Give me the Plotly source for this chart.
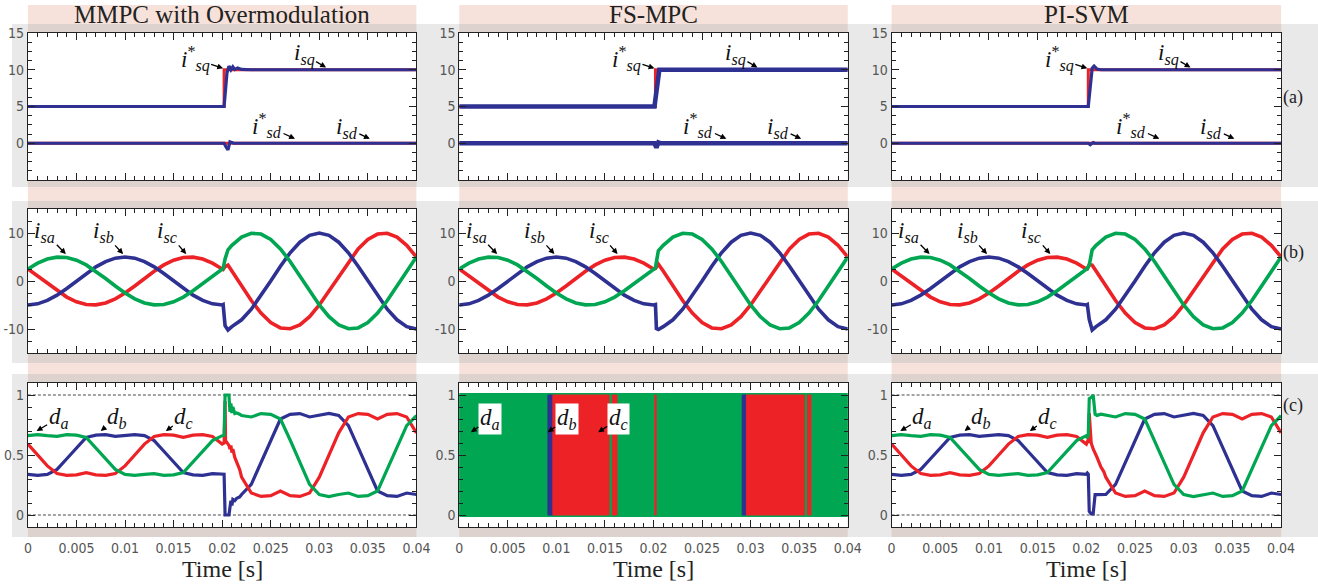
import plotly.graph_objects as go

W, H = 1318, 586
# the photographed page maps the figure into a slightly smaller box (offset at the top);
# reference pixel positions are mapped through it
EFF_W, EFF_H, OFF_Y = 1305.0, 578.0, 8.0
GREEN, BLUE, RED = '#00a651', '#2e3192', '#ec2227'
GREY, PEACH, OVER = '#e8e9e8', '#f6e2da', '#ded2ce'

# ---------------- (a) dq currents ----------------
T_DQ_REF = [0.0, 0.0202, 0.0202, 0.04]
ISQ_REF = [5.0, 5.0, 10.0, 10.0]
ISD_REF = [0.0, 0.0, 0.0, 0.0]

T_ISQ_MMPC = [0.0, 0.0202, 0.0205, 0.0207, 0.0209, 0.0211, 0.0213, 0.0216, 0.0220, 0.0230, 0.04]
ISQ_MMPC = [5.0, 5.0, 9.6, 10.5, 10.0, 10.4, 10.05, 10.25, 10.05, 10.0, 10.0]
T_ISD_MMPC = [0.0, 0.0202, 0.0204, 0.0206, 0.0208, 0.0212, 0.04]
ISD_MMPC = [0.0, 0.0, -0.5, -0.9, 0.2, 0.0, 0.0]

T_ISQ_FS = [0.0, 0.0201, 0.0206, 0.04]
ISQ_FS = [5.0, 5.0, 10.0, 10.0]
T_ISD_FS = [0.0, 0.0201, 0.0203, 0.0205, 0.0207, 0.04]
ISD_FS = [0.0, 0.0, -0.6, 0.1, 0.0, 0.0]

T_ISQ_PI = [0.0, 0.0202, 0.0206, 0.0208, 0.0211, 0.0215, 0.04]
ISQ_PI = [5.0, 5.0, 10.2, 10.5, 10.1, 10.0, 10.0]
T_ISD_PI = [0.0, 0.0202, 0.0204, 0.0207, 0.0209, 0.04]
ISD_PI = [0.0, 0.0, -0.2, 0.1, 0.0, 0.0]

# ---------------- (b) phase currents ----------------
T_I_PRE = [0.000, 0.001, 0.002, 0.003, 0.004, 0.005, 0.006, 0.007, 0.008, 0.009, 0.010,
           0.011, 0.012, 0.013, 0.014, 0.015, 0.016, 0.017, 0.018, 0.019, 0.020]
ISA_PRE = [2.5, 3.72, 4.57, 4.97, 4.89, 4.33, 3.35, 2.03, 0.52, -1.04, -2.5,
           -3.72, -4.57, -4.97, -4.89, -4.33, -3.35, -2.03, -0.52, 1.04, 2.5]
ISB_PRE = [-5.0, -4.76, -4.05, -2.94, -1.55, 0.0, 1.55, 2.94, 4.05, 4.76, 5.0,
           4.76, 4.05, 2.94, 1.55, 0.0, -1.55, -2.94, -4.05, -4.76, -5.0]
ISC_PRE = [2.5, 1.04, -0.52, -2.03, -3.35, -4.33, -4.89, -4.97, -4.57, -3.72, -2.5,
           -1.04, 0.52, 2.03, 3.35, 4.33, 4.89, 4.97, 4.57, 3.72, 2.5]
T_I_POST = [0.021, 0.022, 0.023, 0.024, 0.025, 0.026, 0.027, 0.028, 0.029, 0.030,
            0.031, 0.032, 0.033, 0.034, 0.035, 0.036, 0.037, 0.038, 0.039, 0.040]
ISA_POST = [7.43, 9.14, 9.95, 9.78, 8.66, 6.69, 4.07, 1.05, -2.08, -5.0,
            -7.43, -9.14, -9.95, -9.78, -8.66, -6.69, -4.07, -1.05, 2.08, 5.0]
ISB_POST = [-9.51, -8.09, -5.88, -3.09, 0.0, 3.09, 5.88, 8.09, 9.51, 10.0,
            9.51, 8.09, 5.88, 3.09, 0.0, -3.09, -5.88, -8.09, -9.51, -10.0]
ISC_POST = [2.08, -1.05, -4.07, -6.69, -8.66, -9.78, -9.95, -9.14, -7.43, -5.0,
            -2.08, 1.05, 4.07, 6.69, 8.66, 9.78, 9.95, 9.14, 7.43, 5.0]

# step transients of the phase currents, per method
T_I_TR_MMPC = [0.0201, 0.0203, 0.0206]
ISA_TR_MMPC = [2.6, 4.6, 6.5]
ISB_TR_MMPC = [-4.9, -9.3, -10.2]
ISC_TR_MMPC = [2.4, 3.0, 3.3]
T_I_TR_FS = [0.0202, 0.0203, 0.0205]
ISA_TR_FS = [2.7, 4.0, 6.3]
ISB_TR_FS = [-4.9, -9.9, -10.1]
ISC_TR_FS = [2.6, 2.9, 3.5]
T_I_TR_PI = [0.0201, 0.0203, 0.0206]
ISA_TR_PI = [2.6, 3.3, 6.5]
ISB_TR_PI = [-4.9, -8.0, -10.2]
ISC_TR_PI = [2.5, 3.4, 3.3]

# ---------------- (c) duty cycles ----------------
T_D_PRE = T_I_PRE
DA_PRE = [0.661, 0.670, 0.661, 0.655, 0.669, 0.666, 0.647, 0.561, 0.469, 0.380, 0.339,
          0.330, 0.339, 0.345, 0.331, 0.334, 0.353, 0.439, 0.531, 0.620, 0.661]
DB_PRE = [0.339, 0.330, 0.339, 0.380, 0.469, 0.561, 0.647, 0.666, 0.669, 0.655, 0.661,
          0.670, 0.661, 0.620, 0.531, 0.439, 0.353, 0.334, 0.331, 0.345, 0.339]
DC_PRE = [0.591, 0.500, 0.409, 0.345, 0.331, 0.334, 0.353, 0.334, 0.331, 0.345, 0.409,
          0.500, 0.591, 0.655, 0.669, 0.666, 0.647, 0.666, 0.669, 0.655, 0.591]
T_D_POST = [0.022, 0.023, 0.024, 0.025, 0.026, 0.027, 0.028, 0.029, 0.030,
            0.031, 0.032, 0.033, 0.034, 0.035, 0.036, 0.037, 0.038, 0.039, 0.040]
DA_POST = [0.829, 0.817, 0.845, 0.839, 0.800, 0.625, 0.437, 0.256, 0.171,
           0.154, 0.171, 0.183, 0.155, 0.161, 0.200, 0.375, 0.563, 0.744, 0.829]
DB_POST = [0.171, 0.256, 0.437, 0.625, 0.800, 0.839, 0.845, 0.817, 0.829,
           0.846, 0.829, 0.744, 0.563, 0.375, 0.200, 0.161, 0.155, 0.183, 0.171]
DC_POST = [0.315, 0.183, 0.155, 0.161, 0.200, 0.161, 0.155, 0.183, 0.315,
           0.500, 0.685, 0.817, 0.845, 0.839, 0.800, 0.839, 0.845, 0.817, 0.685]

T_D_TR_MMPC = [0.0202, 0.0203, 0.02035, 0.0207, 0.0208, 0.0209, 0.0210, 0.0211, 0.0213, 0.0215, 0.0218]
DA_TR_MMPC = [0.665, 1.0, 1.0, 1.0, 0.86, 0.93, 0.85, 0.90, 0.845, 0.85, 0.84]
DB_TR_MMPC = [0.34, 0.0, 0.0, 0.0, 0.06, 0.12, 0.08, 0.13, 0.12, 0.14, 0.15]
DC_TR_MMPC = [0.60, 0.95, 0.62, 0.58, 0.55, 0.58, 0.52, 0.55, 0.48, 0.44, 0.38]
T_D_TR_PI = [0.0201, 0.0202, 0.0203, 0.0205, 0.0207, 0.0209, 0.0211, 0.0215, 0.0218]
DA_TR_PI = [0.64, 0.67, 0.97, 0.98, 1.0, 0.84, 0.83, 0.84, 0.835]
DB_TR_PI = [0.35, 0.34, 0.03, 0.01, 0.01, 0.17, 0.17, 0.17, 0.17]
DC_TR_PI = [0.61, 0.60, 0.85, 0.60, 0.55, 0.52, 0.48, 0.40, 0.36]

# FS-MPC switching signals: intervals where a phase visibly dominates the 0/1 band
FS_BASE_START, FS_BASE_END = 0.0, 0.04
FS_SEG_START = [0.00913, 0.00964, 0.01576, 0.02014, 0.02913, 0.02957, 0.03586]
FS_SEG_END = [0.00964, 0.01542, 0.01624, 0.02027, 0.02957, 0.03552, 0.03621]
FS_SEG_PHASE = ['b', 'c', 'c', 'c', 'b', 'c', 'c']

X_TICKS = [0, 0.005, 0.01, 0.015, 0.02, 0.025, 0.03, 0.035, 0.04]
X_TICK_TEXT = ['0', '0.005', '0.01', '0.015', '0.02', '0.025', '0.03', '0.035', '0.04']
Y_TICKS = [[0, 5, 10, 15], [-10, 0, 10], [0, 0.5, 1]]
Y_TICK_TEXT = [['0', '5', '10', '15'], ['-10', '0', '10'], ['0', '0.5', '1']]
TITLES = ['MMPC with Overmodulation', 'FS-MPC', 'PI-SVM']
ROW_LABELS = ['(a)', '(b)', '(c)']

# ---------------- layout geometry (reference pixels) ----------------
COLS_PX = [(24, 414), (457, 847), (891, 1282)]
ROWS_PX = [(33, 180), (209, 353), (383, 527)]
BANDS_PX = [(24, 187), (201, 363), (374, 537)]
Y_RANGES = [[-5, 15], [-15, 15], [-0.1, 1.1]]
Y_MINOR = [1.25, 2.5, 0.1]

SERIF = 'Liberation Serif, Times New Roman, serif'
NARROW = 'Liberation Sans Narrow, DejaVu Sans Condensed, Arial Narrow, sans-serif'
FRAME = '#222222'


def fx(px):
    return px / EFF_W


def fy(py):
    return 1 - (py - OFF_Y) / EFF_H


def ax_id(r, c):
    n = r * 3 + c + 1
    return '' if n == 1 else str(n)


fig = go.Figure()


def add_line(r, c, x, y, color, width):
    s = ax_id(r, c)
    fig.add_trace(go.Scatter(x=x, y=y, mode='lines', line=dict(color=color, width=width),
                             xaxis='x' + s, yaxis='y' + s, showlegend=False, hoverinfo='skip'))


# (a)
DQ = [(T_ISQ_MMPC, ISQ_MMPC, T_ISD_MMPC, ISD_MMPC, 3.2),
      (T_ISQ_FS, ISQ_FS, T_ISD_FS, ISD_FS, 4.6),
      (T_ISQ_PI, ISQ_PI, T_ISD_PI, ISD_PI, 3.2)]
for c, (tq, q, td, d, wdt) in enumerate(DQ):
    add_line(0, c, T_DQ_REF, ISQ_REF, RED, 3)
    add_line(0, c, T_DQ_REF, ISD_REF, RED, 3)
    add_line(0, c, tq, q, BLUE, wdt)
    add_line(0, c, td, d, BLUE, wdt)

# (b)
TR_I = [(T_I_TR_MMPC, ISA_TR_MMPC, ISB_TR_MMPC, ISC_TR_MMPC),
        (T_I_TR_FS, ISA_TR_FS, ISB_TR_FS, ISC_TR_FS),
        (T_I_TR_PI, ISA_TR_PI, ISB_TR_PI, ISC_TR_PI)]
for c, (tt, ta, tb, tc) in enumerate(TR_I):
    t = T_I_PRE + tt + T_I_POST
    add_line(1, c, t, ISC_PRE + tc + ISC_POST, RED, 3.6)
    add_line(1, c, t, ISB_PRE + tb + ISB_POST, BLUE, 3.6)
    add_line(1, c, t, ISA_PRE + ta + ISA_POST, GREEN, 3.6)

# (c) MMPC and PI-SVM
for c, (tt, ta, tb, tc) in [(0, (T_D_TR_MMPC, DA_TR_MMPC, DB_TR_MMPC, DC_TR_MMPC)),
                            (2, (T_D_TR_PI, DA_TR_PI, DB_TR_PI, DC_TR_PI))]:
    t = T_D_PRE + tt + T_D_POST
    add_line(2, c, t, DB_PRE + tb + DB_POST, BLUE, 3.2)
    add_line(2, c, t, DC_PRE + tc + DC_POST, RED, 3.2)
    add_line(2, c, t, DA_PRE + ta + DA_POST, GREEN, 3.2)

# (c) FS-MPC
PHASE_COLOR = {'a': GREEN, 'b': BLUE, 'c': RED}
s = ax_id(2, 1)
fig.add_trace(go.Scatter(x=[FS_BASE_START, FS_BASE_END, FS_BASE_END, FS_BASE_START, FS_BASE_START],
                         y=[0, 0, 1, 1, 0], mode='lines', fill='toself', fillcolor=GREEN,
                         line=dict(color=GREEN, width=4), xaxis='x' + s, yaxis='y' + s,
                         showlegend=False, hoverinfo='skip'))
for st, en, ph in zip(FS_SEG_START, FS_SEG_END, FS_SEG_PHASE):
    col = PHASE_COLOR[ph]
    fig.add_trace(go.Scatter(x=[st, en, en, st, st], y=[0, 0, 1, 1, 0], mode='lines', fill='toself',
                             fillcolor=col, line=dict(color=col, width=1), xaxis='x' + s, yaxis='y' + s,
                             showlegend=False, hoverinfo='skip'))

# ---------------- shapes (background bands) ----------------
shapes = []


def prect(x0, y0, x1, y1, color):
    shapes.append(dict(type='rect', xref='paper', yref='paper', x0=fx(x0), x1=fx(x1),
                       y0=fy(y1), y1=fy(y0), fillcolor=color, line=dict(width=0), layer='below'))


for (b0, b1) in BANDS_PX:
    prect(8, b0, W + 20, b1, GREY)
for (c0, c1) in COLS_PX:
    prect(c0, 5, c1, BANDS_PX[2][1], PEACH)
    for (b0, b1) in BANDS_PX:
        prect(c0, b0, c1, b1, OVER)
for (c0, c1) in COLS_PX:
    for (r0, r1) in ROWS_PX:
        prect(c0, r0, c1, r1, 'white')
for c in (0, 2):
    s = ax_id(2, c)
    for yv in (0, 1):
        shapes.append(dict(type='line', xref='x' + s + ' domain', yref='y' + s, x0=0, x1=1, y0=yv, y1=yv,
                           line=dict(color='#333333', width=0.9, dash='3px,2px'), layer='below'))

# ---------------- axes ----------------
lay = dict(width=W, height=H, autosize=False, margin=dict(l=0, r=0, t=0, b=0), paper_bgcolor='white',
           plot_bgcolor='white', showlegend=False, shapes=shapes)
tickfont = dict(family=NARROW, size=14, color='#555555')
for r in range(3):
    for c in range(3):
        s = ax_id(r, c)
        x0, x1 = COLS_PX[c]
        y0, y1 = ROWS_PX[r]
        lay['xaxis' + s] = dict(domain=[fx(x0), fx(x1)], anchor='y' + s, range=[0, 0.04],
                                showline=True, linecolor=FRAME, linewidth=1, mirror='ticks',
                                ticks='inside', ticklen=7, tickcolor=FRAME, tickwidth=1,
                                tickmode='array', tickvals=X_TICKS, ticktext=X_TICK_TEXT,
                                showticklabels=(r == 2), tickfont=tickfont, ticklabelstandoff=8,
                                minor=dict(ticks='inside', ticklen=4, tickcolor=FRAME, tickmode='linear',
                                           tick0=0, dtick=0.001, showgrid=False),
                                showgrid=False, zeroline=False, fixedrange=True)
        lay['yaxis' + s] = dict(domain=[fy(y1), fy(y0)], anchor='x' + s, range=Y_RANGES[r],
                                showline=True, linecolor=FRAME, linewidth=1, mirror='ticks',
                                ticks='inside', ticklen=7, tickcolor=FRAME, tickwidth=1,
                                tickmode='array', tickvals=Y_TICKS[r], ticktext=Y_TICK_TEXT[r],
                                tickfont=tickfont,
                                minor=dict(ticks='inside', ticklen=4, tickcolor=FRAME, tickmode='linear',
                                           tick0=0, dtick=Y_MINOR[r], showgrid=False),
                                showgrid=False, zeroline=False, fixedrange=True)

# ---------------- annotations ----------------
anns = []
for c, t in enumerate(TITLES):
    anns.append(dict(xref='paper', yref='paper', x=fx(sum(COLS_PX[c]) / 2), y=fy(15), text=t,
                     showarrow=False, font=dict(family=SERIF, size=25, color='#222222'),
                     xanchor='center', yanchor='middle'))
    anns.append(dict(xref='paper', yref='paper', x=fx(sum(COLS_PX[c]) / 2), y=fy(569), text='Time [s]',
                     showarrow=False, font=dict(family=SERIF, size=24, color='#222222'),
                     xanchor='center', yanchor='middle'))
# row labels: placed right of the last frame, kept inside the page
for r, t in enumerate(ROW_LABELS):
    anns.append(dict(xref='paper', yref='paper', x=1307.0 / W, y=fy([97, 252, 405][r]), text=t,
                     showarrow=False, font=dict(family=SERIF, size=18, color='#222222'),
                     xanchor='center', yanchor='middle'))

LBL_FONT = dict(family=SERIF, size=23, color='#111111')


def label(r, c, x, y, base, sub, ax, ay, star=False, bg=None):
    s = ax_id(r, c)
    if star:
        txt = '<i>%s</i><sup>*</sup><sub><i>%s</i></sub>' % (base, sub)
    else:
        txt = '<i>%s</i><sub><i>%s</i></sub>' % (base, sub)
    a = dict(xref='x' + s, yref='y' + s, x=x, y=y, text=txt,
             showarrow=True, arrowhead=2, arrowsize=0.9, arrowwidth=1.3, arrowcolor='black',
             ax=ax, ay=ay, font=LBL_FONT)
    if bg:
        a.update(bgcolor=bg, borderpad=1)
    anns.append(a)


for c in range(3):
    label(0, c, 0.0201, 10.2, 'i', 'sq', -28, -9, star=True)
    label(0, c, 0.0307, 10.3, 'i', 'sq', -22, -13)
    label(0, c, 0.0275, 0.6, 'i', 'sd', -28, -13, star=True)
    label(0, c, 0.0352, 0.6, 'i', 'sd', -23, -11)
    label(1, c, 0.0039, 5.6, 'i', 'sa', -21, -22)
    label(1, c, 0.0098, 5.6, 'i', 'sb', -20, -22)
    label(1, c, 0.0163, 5.6, 'i', 'sc', -19, -22)
for c in (0, 2):
    label(2, c, 0.0009, 0.70, 'd', 'a', 22, -13)
    label(2, c, 0.0075, 0.70, 'd', 'b', 16, -13)
    label(2, c, 0.0142, 0.70, 'd', 'c', 18, -13)
label(2, 1, 0.0012, 0.69, 'd', 'a', 19, -13, bg='white')
label(2, 1, 0.0091, 0.69, 'd', 'b', 19, -13, bg='white')
label(2, 1, 0.0143, 0.69, 'd', 'c', 20, -13, bg='white')

lay['annotations'] = anns
fig.update_layout(**lay)
fig.write_html('out.html')
